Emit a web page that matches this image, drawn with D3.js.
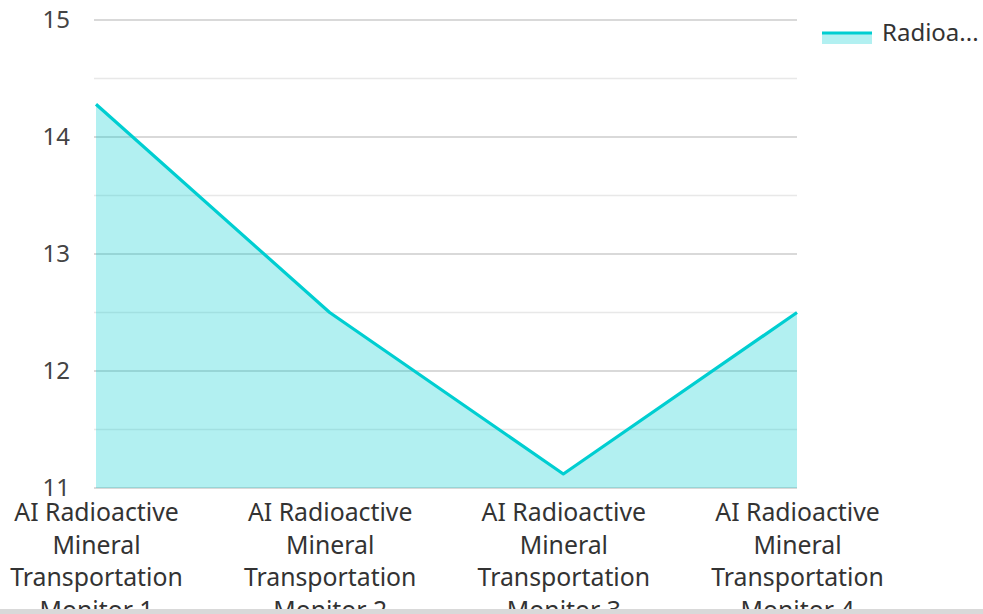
<!DOCTYPE html>
<html>
<head>
<meta charset="utf-8">
<script src="https://cdn.jsdelivr.net/npm/d3@7"></script>
<style>
  html, body { margin: 0; padding: 0; background: #fff; overflow: hidden; }
  svg { display: block; font-family: "Noto Sans", "Open Sans", sans-serif; }
</style>
</head>
<body>
<svg id="chart" width="983" height="614"></svg>
<script>
// Radioactive mineral transportation monitors
const categories = [
  "AI Radioactive Mineral Transportation Monitor 1",
  "AI Radioactive Mineral Transportation Monitor 2",
  "AI Radioactive Mineral Transportation Monitor 3",
  "AI Radioactive Mineral Transportation Monitor 4"
];
const values = [14.28, 12.5, 11.12, 12.5];
const seriesName = "Radioactivity";
const legendLabel = "Radioa...";
const yTicks = [11, 12, 13, 14, 15];
const yGrid = [11, 11.5, 12, 12.5, 13, 13.5, 14, 14.5, 15];

const W = 983, H = 614;
const plot = { left: 96, right: 797, top: 20, bottom: 488 };
const lineColor = "#00CED1";
const fontSize = 24;
const catFontSize = 24.8;
const fontFamily = "\"Noto Sans\", \"Open Sans\", sans-serif";

const svg = d3.select("#chart");

const x = d3.scalePoint().domain(categories).range([plot.left, plot.right]).padding(0);
const y = d3.scaleLinear().domain([11, 15]).range([plot.bottom, plot.top]);

// gridlines
svg.append("g").selectAll("line").data(yGrid).join("line")
  .attr("x1", plot.left - 2).attr("x2", plot.right)
  .attr("y1", d => y(d)).attr("y2", d => y(d))
  .attr("stroke", d => Number.isInteger(d) ? "#cccccc" : "#e8e8e8")
  .attr("stroke-width", 1.3);

// y axis labels
const yAxis = d3.axisLeft(y).tickValues(yTicks).tickSize(0).tickPadding(0).tickFormat(d3.format("d"));
const yg = svg.append("g").attr("transform", `translate(${70},0)`).call(yAxis);
yg.select(".domain").remove();
yg.selectAll("text").attr("font-size", fontSize).attr("fill", "#444").attr("dy", "0.32em")
  .attr("font-family", fontFamily);

// area + line
const area = d3.area().x((d, i) => x(categories[i])).y0(plot.bottom).y1(d => y(d));
const line = d3.line().x((d, i) => x(categories[i])).y(d => y(d));

svg.append("path").datum(values).attr("d", area)
  .attr("fill", lineColor).attr("fill-opacity", 0.3);
svg.append("path").datum(values).attr("d", line)
  .attr("fill", "none").attr("stroke", lineColor).attr("stroke-width", 3.2)
  .attr("stroke-linejoin", "round");

// x axis category labels, wrapped
const xAxis = d3.axisBottom(x).tickSize(0).tickPadding(0);
const xg = svg.append("g").attr("transform", `translate(0,${plot.bottom})`).call(xAxis);
xg.select(".domain").remove();
xg.selectAll("text").each(function(d) {
  const t = d3.select(this);
  t.text(null).attr("font-size", catFontSize).attr("fill", "#333").attr("y", 0).attr("dy", null)
    .attr("font-family", fontFamily);
  const words = d.split(" ");
  const lines = [words.slice(0, 2).join(" "), words[2], words[3], words.slice(4).join(" ")];
  lines.forEach((ln, i) => {
    t.append("tspan").attr("x", 0).attr("y", 33 + i * 32.5).text(ln);
  });
});

// legend
const lg = svg.append("g").attr("transform", "translate(822,33)");
lg.append("rect").attr("x", 0).attr("y", 0).attr("width", 50).attr("height", 11)
  .attr("fill", lineColor).attr("fill-opacity", 0.3);
lg.append("line").attr("x1", 0).attr("x2", 50).attr("y1", 0).attr("y2", 0)
  .attr("stroke", lineColor).attr("stroke-width", 3);
lg.append("text").attr("x", 60).attr("y", 8).attr("font-size", fontSize).attr("fill", "#333")
  .attr("font-family", fontFamily)
  .text(legendLabel).append("title").text(seriesName);

// bottom bar
svg.append("rect").attr("x", 0).attr("y", H - 5).attr("width", W).attr("height", 5).attr("fill", "#d9d9d9");
</script>
</body>
</html>
